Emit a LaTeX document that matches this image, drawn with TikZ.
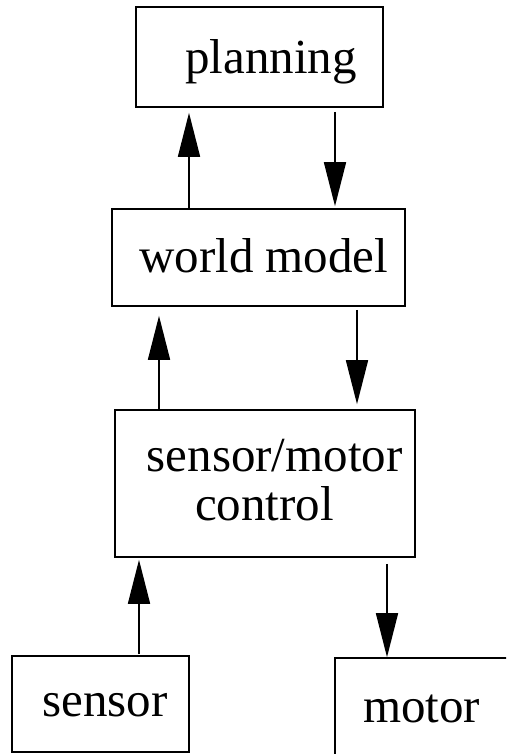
\documentclass[tikz,border=0pt]{standalone}
\usepackage{fontspec}
\setmainfont{Liberation Serif}
\usetikzlibrary{arrows.meta}
\begin{document}
\begin{tikzpicture}[x=1pt,y=-1pt,
  box/.style={draw,line width=1.6pt,rectangle,inner sep=0pt,minimum width=#1},
  lbl/.style={anchor=base west,inner sep=0pt,font=\fontsize{49}{49}\selectfont},
  arr/.style={line width=1.6pt,-{Triangle[length=44pt,width=22pt]}}]
  \clip (0,0) rectangle (506,754);
  \useasboundingbox (0,0) rectangle (506,754);

  % boxes
  \node[box=247pt,minimum height=100pt] (plan) at (259.5,57) {};
  \node[box=293pt,minimum height=97pt] (wm) at (258.5,257.5) {};
  \node[box=300pt,minimum height=147pt] (smc) at (265,483.5) {};
  \node[box=177pt,minimum height=96pt] (sens) at (100.5,704) {};
  \node[box=200pt,minimum height=130pt] (mot) at (435,723) {};

  % labels
  \node[lbl] (tplan) at (185,74) {planning};
  \node[lbl] (twm) at (139,272.5) {world model};
  \node[lbl] (tsm) at (146.5,471.5) {sensor/motor};
  \node[lbl] (tctl) at (195,520.5) {control};
  \node[lbl] (tsens) at (42,716.5) {sensor};
  \node[lbl] (tmot) at (363,722.5) {motor};

  % arrow columns
  \coordinate (c1) at (189,0);
  \coordinate (c2) at (335,0);
  \coordinate (c3) at (159,0);
  \coordinate (c4) at (357,0);
  \coordinate (c5) at (139,0);
  \coordinate (c6) at (387,0);

  % connectors
  \draw[arr,shorten >=5pt] (wm.north -| c1) -- (plan.south -| c1);
  \draw[arr,shorten <=4pt,shorten >=2pt] (plan.south -| c2) -- (wm.north -| c2);
  \draw[arr,shorten >=9pt] (smc.north -| c3) -- (wm.south -| c3);
  \draw[arr,shorten <=3pt,shorten >=5pt] (wm.south -| c4) -- (smc.north -| c4);
  \draw[arr,shorten <=1pt,shorten >=2pt] (sens.north -| c5) -- (smc.south -| c5);
  \draw[arr,shorten <=6pt] (smc.south -| c6) -- (mot.north -| c6);
\end{tikzpicture}
\end{document}
